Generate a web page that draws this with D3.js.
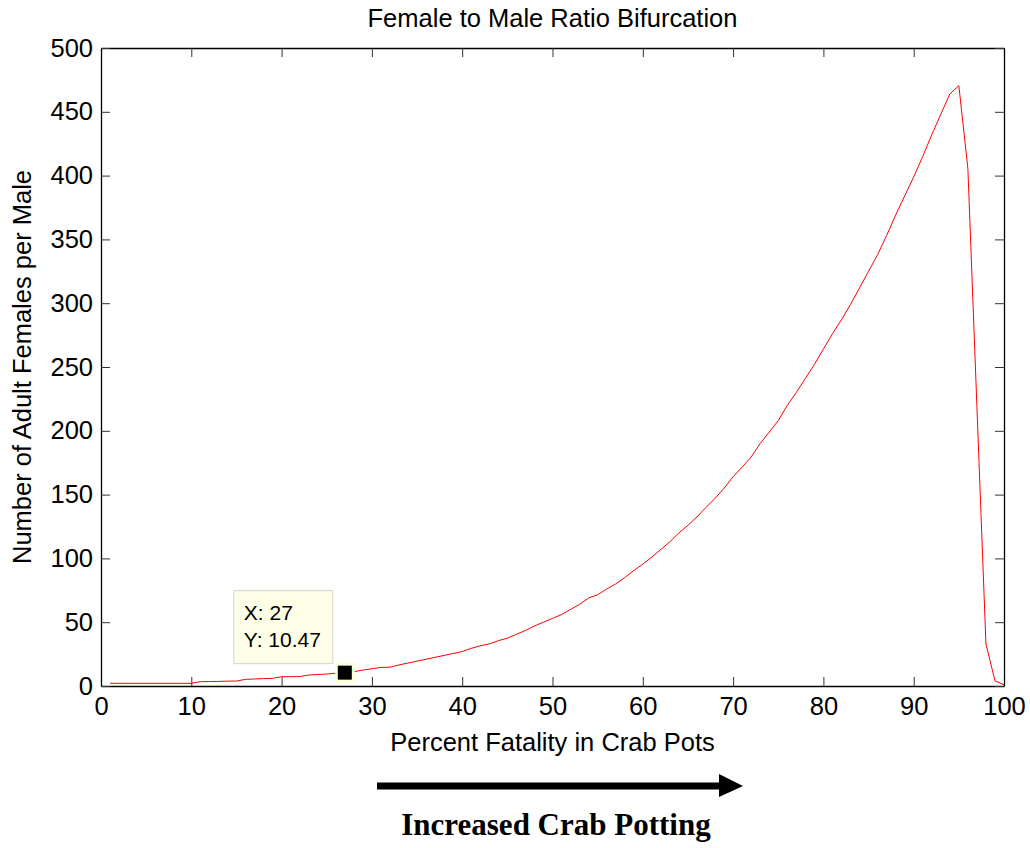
<!DOCTYPE html>
<html>
<head>
<meta charset="utf-8">
<script src="https://cdn.jsdelivr.net/npm/d3@7"></script>
<style>
  body { margin: 0; background: #fff; }
  text { font-family: "Liberation Sans", Arial, sans-serif; fill: #000; }
</style>
</head>
<body>
<script>
// percent fatality in crab pots (1..100)
var fatality = d3.range(1, 101);
// adult females per male
var ratio = [
  2.1, 2.1, 2.1, 2.1, 2.1, 2.1, 2.1, 2.1, 2.1, 2.1,
  3.4, 3.5, 3.6, 3.8, 3.9, 5.2, 5.5, 5.8, 6.0, 7.3,
  7.3, 7.4, 8.6, 9.0, 9.4, 10.0, 10.47, 11.2, 12.5, 13.5,
  14.6, 14.7, 16.5, 18.0, 19.5, 21.0, 22.5, 24.0, 25.5, 27.0,
  29.5, 31.5, 33.0, 35.5, 37.5, 40.5, 43.5, 47.0, 50.0, 53.0,
  56.0, 60.0, 64.0, 69.0, 71.5, 76.0, 80.0, 85.0, 90.5, 95.5,
  101, 107, 113, 120, 126, 132.5, 140, 147, 155, 164,
  171.5, 179.5, 190, 199, 208, 220, 230, 241, 252, 264,
  276, 287, 299, 312, 325, 338, 353, 369, 384, 399,
  415, 432, 448, 464, 470.5, 405.5, 219, 33, 4, 1
];
var xTicks = d3.range(0, 101, 10);
var yTicks = d3.range(0, 501, 50);
var tip = { x: 27, y: 10.47 };

var W = 1030, H = 848;
var margin = { top: 48, right: 26, bottom: 162, left: 101 };
var fs = "25.5px";

var svg = d3.select("body").append("svg")
    .attr("width", W)
    .attr("height", H);

var x = d3.scaleLinear().domain([0, 100]).range([margin.left, W - margin.right]);
var y = d3.scaleLinear().domain([0, 500]).range([H - margin.bottom, margin.top]);

// axes, matlab style: ticks inward, box all round
var tickLen = 9;
var gx = svg.append("g")
    .attr("transform", "translate(0," + y(0) + ")")
    .call(d3.axisBottom(x).tickValues(xTicks).tickSizeInner(-tickLen).tickSizeOuter(0).tickPadding(11));
var gxt = svg.append("g")
    .attr("transform", "translate(0," + y(500) + ")")
    .call(d3.axisTop(x).tickValues(xTicks).tickSizeInner(-tickLen).tickSizeOuter(0).tickFormat(""));
var gy = svg.append("g")
    .attr("transform", "translate(" + x(0) + ",0)")
    .call(d3.axisLeft(y).tickValues(yTicks).tickSizeInner(-tickLen).tickSizeOuter(0).tickPadding(8));
var gyr = svg.append("g")
    .attr("transform", "translate(" + x(100) + ",0)")
    .call(d3.axisRight(y).tickValues(yTicks).tickSizeInner(-tickLen).tickSizeOuter(0).tickFormat(""));

[gx, gxt, gy, gyr].forEach(function (g) {
    g.select(".domain").attr("stroke", "#000").attr("stroke-width", 1.3);
    g.selectAll(".tick line").attr("stroke", "#333");
    g.selectAll("text").style("font-size", fs).attr("fill", "#000");
});

// curve
var line = d3.line()
    .x(function (d, i) { return x(fatality[i]); })
    .y(function (d) { return y(d); });

svg.append("path")
    .datum(ratio)
    .attr("fill", "none")
    .attr("stroke", "#ff0000")
    .attr("stroke-width", 1)
    .attr("d", line);

// data tip
var px = x(tip.x), py = y(tip.y);
svg.append("rect")
    .attr("x", px - 10).attr("y", py - 10)
    .attr("width", 20).attr("height", 20)
    .attr("fill", "#ffffd8");
svg.append("rect")
    .attr("x", px - 7).attr("y", py - 7)
    .attr("width", 14).attr("height", 14)
    .attr("fill", "#000");

var bx = px - 111, by = py - 82;
svg.append("rect")
    .attr("x", bx).attr("y", by)
    .attr("width", 99).attr("height", 73)
    .attr("fill", "#ffffe8")
    .attr("stroke", "#d4d4c8");
svg.append("text")
    .attr("x", bx + 10).attr("y", by + 29)
    .style("font-size", "21px")
    .text("X: " + tip.x);
svg.append("text")
    .attr("x", bx + 10).attr("y", by + 56)
    .style("font-size", "21px")
    .text("Y: " + tip.y);

// titles
svg.append("text")
    .attr("x", (x(0) + x(100)) / 2).attr("y", 27)
    .attr("text-anchor", "middle")
    .style("font-size", fs)
    .text("Female to Male Ratio Bifurcation");

svg.append("text")
    .attr("x", (x(0) + x(100)) / 2).attr("y", 751)
    .attr("text-anchor", "middle")
    .style("font-size", fs)
    .text("Percent Fatality in Crab Pots");

svg.append("text")
    .attr("transform", "translate(31," + (y(0) + y(500)) / 2 + ") rotate(-90)")
    .attr("text-anchor", "middle")
    .style("font-size", fs)
    .text("Number of Adult Females per Male");

// annotation arrow
svg.append("line")
    .attr("x1", 377).attr("y1", 786)
    .attr("x2", 722).attr("y2", 786)
    .attr("stroke", "#000")
    .attr("stroke-width", 7);
svg.append("path")
    .attr("d", "M719,774 L743,786 L719,797 Z")
    .attr("fill", "#000");

svg.append("text")
    .attr("x", 556).attr("y", 835)
    .attr("text-anchor", "middle")
    .style("font-family", "'Liberation Serif', 'Times New Roman', serif")
    .style("font-weight", "bold")
    .style("font-size", "31px")
    .text("Increased Crab Potting");
</script>
</body>
</html>
